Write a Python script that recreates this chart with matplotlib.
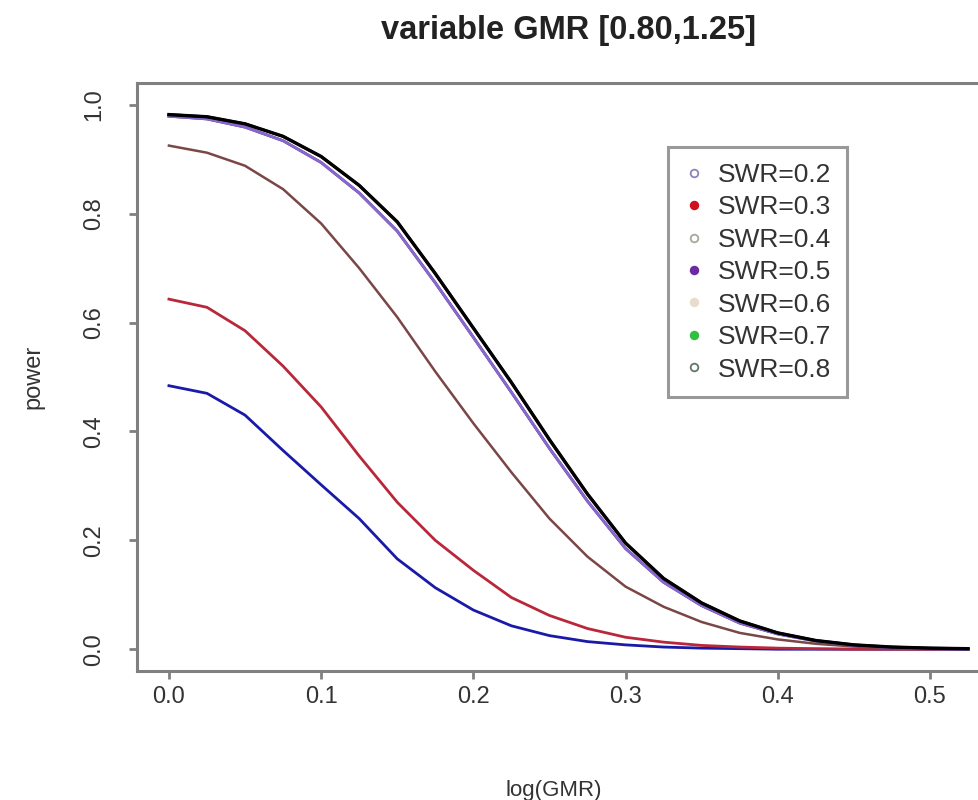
import matplotlib
matplotlib.use("Agg")
import matplotlib.pyplot as plt
from matplotlib.lines import Line2D

plt.rcParams['font.family'] = ['Liberation Sans', 'DejaVu Sans']

# log(GMR) grid the curves were read at
log_gmr = [0.0, 0.025, 0.05, 0.075, 0.1, 0.125, 0.15, 0.175, 0.2, 0.225, 0.25,
           0.275, 0.3, 0.325, 0.35, 0.375, 0.4, 0.425, 0.45, 0.475, 0.5, 0.525]

swr_02 = [0.484, 0.470, 0.430, 0.365, 0.302, 0.240, 0.166, 0.113, 0.072, 0.043, 0.025,
          0.014, 0.008, 0.004, 0.002, 0.001, 0.0, 0.0, 0.0, 0.0, 0.0, 0.0]
swr_03 = [0.643, 0.628, 0.585, 0.520, 0.445, 0.355, 0.270, 0.200, 0.145, 0.095, 0.062,
          0.038, 0.022, 0.013, 0.007, 0.004, 0.002, 0.001, 0.0, 0.0, 0.0, 0.0]
swr_04 = [0.925, 0.912, 0.888, 0.845, 0.782, 0.700, 0.610, 0.510, 0.415, 0.325, 0.240,
          0.170, 0.115, 0.078, 0.050, 0.030, 0.018, 0.010, 0.005, 0.002, 0.001, 0.0]
swr_05 = [0.979, 0.974, 0.959, 0.934, 0.894, 0.838, 0.768, 0.673, 0.573, 0.472, 0.369,
          0.272, 0.185, 0.123, 0.080, 0.048, 0.028, 0.015, 0.007, 0.003, 0.001, 0.0]
# SWR=0.6 and 0.7 lie on top of the 0.5 / 0.8 curves
swr_06 = [0.979, 0.974, 0.959, 0.934, 0.894, 0.838, 0.768, 0.673, 0.573, 0.472, 0.369,
          0.272, 0.185, 0.123, 0.080, 0.048, 0.028, 0.015, 0.007, 0.003, 0.001, 0.0]
swr_07 = [0.982, 0.978, 0.965, 0.942, 0.905, 0.852, 0.785, 0.690, 0.590, 0.490, 0.385,
          0.285, 0.195, 0.130, 0.085, 0.052, 0.030, 0.016, 0.008, 0.004, 0.002, 0.001]
swr_08 = [0.982, 0.978, 0.965, 0.942, 0.905, 0.852, 0.785, 0.690, 0.590, 0.490, 0.385,
          0.285, 0.195, 0.130, 0.085, 0.052, 0.030, 0.016, 0.008, 0.004, 0.002, 0.001]

labels = ["SWR=0.2", "SWR=0.3", "SWR=0.4", "SWR=0.5", "SWR=0.6", "SWR=0.7", "SWR=0.8"]
series = [swr_02, swr_03, swr_04, swr_06, swr_05, swr_07, swr_08]

# colours of the drawn curves (they differ from the legend symbols, as in the original)
line_colors = ["#1a1aa8", "#b8283a", "#7a4646", "#3a2a6a", "#8a66d0", "#1a1030", "#000000"]
line_widths = [2.0, 2.0, 1.8, 2.0, 2.0, 2.0, 2.4]

# legend symbols
leg_colors = ["#9080c0", "#d01020", "#a8a898", "#6a2aa0", "#e8dccc", "#30c040", "#607868"]
leg_filled = [False, True, False, True, True, True, False]

fig = plt.figure(figsize=(9.79, 8.0), dpi=100)
ax = fig.add_axes([0.1399, 0.16125, 0.8815, 0.735])

for vals, c, lw in zip(series, line_colors, line_widths):
    ax.plot(log_gmr, vals, color=c, lw=lw, solid_joinstyle='round')

ax.set_xlim(-0.021, 0.546)
ax.set_ylim(-0.04, 1.04)
ax.set_xticks([0.0, 0.1, 0.2, 0.3, 0.4, 0.5])
ax.set_xticklabels(["0.0", "0.1", "0.2", "0.3", "0.4", "0.5"])
ax.set_yticks([0.0, 0.2, 0.4, 0.6, 0.8, 1.0])
ax.set_yticklabels(["0.0", "0.2", "0.4", "0.6", "0.8", "1.0"], rotation=90, va='center')

grey = "#808080"
for sp in ax.spines.values():
    sp.set_color(grey)
    sp.set_linewidth(2.2)
ax.tick_params(axis='both', direction='out', length=6, width=2, color=grey,
               labelsize=17, labelcolor="#333333")
ax.tick_params(axis='x', pad=5)
ax.tick_params(axis='y', pad=17)

ax.set_xlabel("log(GMR)", fontsize=16, color="#333333", labelpad=48)
ax.xaxis.set_label_coords(0.483, -0.185)
ax.set_ylabel("power", fontsize=17, color="#333333", labelpad=28)
ax.set_title("variable GMR [0.80,1.25]", fontsize=23.5, fontweight='bold',
             color="#222222", pad=32)

handles = []
for lab, c, filled in zip(labels, leg_colors, leg_filled):
    handles.append(Line2D([], [], ls='none', marker='o', markersize=5.5,
                          markerfacecolor=c if filled else 'none',
                          markeredgecolor=c, markeredgewidth=1.3, label=lab))
leg = ax.legend(handles=handles, loc='upper left', bbox_to_anchor=(0.615, 0.891),
                borderaxespad=0, fontsize=19, frameon=True, fancybox=False,
                handlelength=0.8, handletextpad=0.5, labelspacing=0.32,
                borderpad=0.6, labelcolor="#333333")
leg.get_frame().set_edgecolor(grey)
leg.get_frame().set_linewidth(2.2)

fig.savefig("out.png", dpi=100)
